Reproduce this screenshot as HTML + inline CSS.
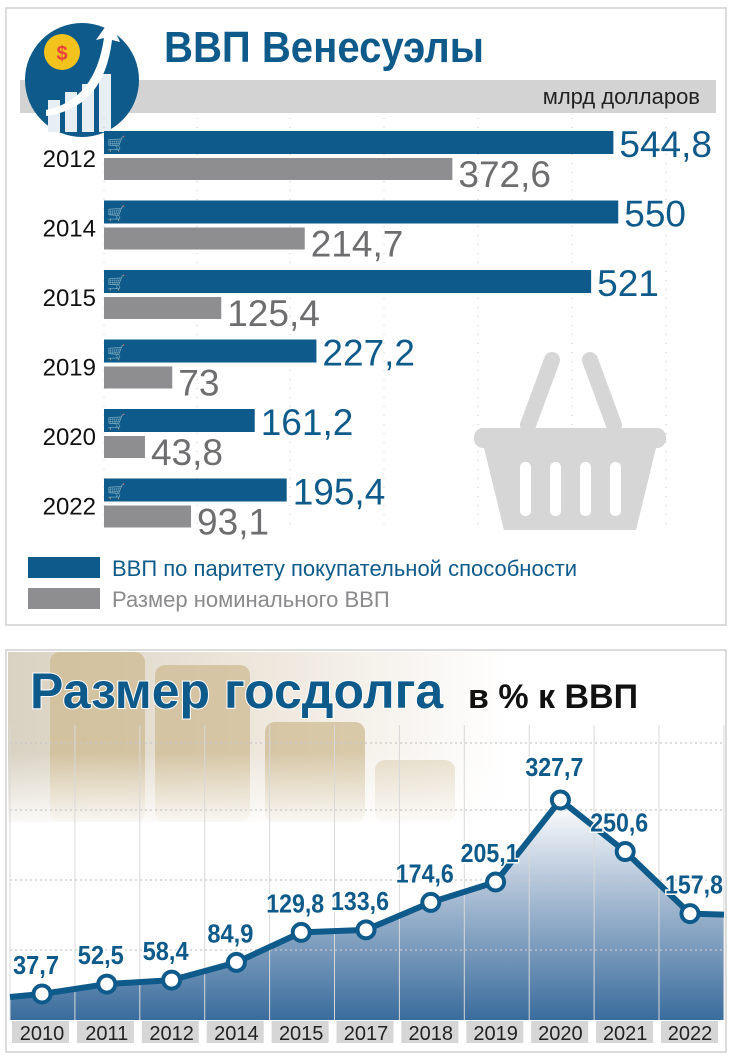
<!DOCTYPE html>
<html><head><meta charset="utf-8"><style>
body{margin:0;background:#fff;width:735px;height:1058px;overflow:hidden;font-family:"Liberation Sans",sans-serif}
svg{display:block}
</style></head><body>
<svg width="735" height="1058" viewBox="0 0 735 1058" font-family="Liberation Sans, sans-serif">
<defs>
<linearGradient id="area" x1="0" y1="0" x2="0" y2="1"><stop offset="0" stop-color="#ffffff"/><stop offset="0.35" stop-color="#b9c9dc"/><stop offset="1" stop-color="#3a6c9c"/></linearGradient>
<linearGradient id="bg" x1="0" y1="0" x2="1" y2="0"><stop offset="0" stop-color="#d9d2c2"/><stop offset="0.55" stop-color="#efe9df"/><stop offset="1" stop-color="#ffffff"/></linearGradient>
<linearGradient id="fade" x1="0" y1="0" x2="0" y2="1"><stop offset="0" stop-color="#fff" stop-opacity="0"/><stop offset="1" stop-color="#fff" stop-opacity="1"/></linearGradient>
</defs>
<rect x="6" y="8" width="720" height="617" fill="#fff" stroke="#d0d0d0" stroke-width="1.5"/>
<rect x="20" y="80" width="696" height="33" fill="#d3d3d3"/>
<text x="700" y="104" text-anchor="end" font-size="22" fill="#222">млрд долларов</text>
<g>
<circle cx="82" cy="80" r="57" fill="#0e5a8a"/>
<rect x="48" y="100" width="12" height="32" fill="#e7eef4"/><rect x="65" y="92" width="12" height="40" fill="#e7eef4"/><rect x="82" y="84" width="12" height="48" fill="#e7eef4"/><rect x="99" y="74" width="12" height="58" fill="#e7eef4"/>
<path d="M46 110 Q95 100 104 38 L96 40 L110 20 L120 42 L112 40 Q104 108 46 116 Z" fill="#fff"/>
<circle cx="62" cy="52" r="18" fill="#f4c21c"/><text x="62" y="60" text-anchor="middle" font-size="20" font-weight="bold" fill="#e8443a">$</text>
</g>
<text x="164" y="62" font-size="44" font-weight="bold" fill="#0e5a8a" textLength="320" lengthAdjust="spacingAndGlyphs">ВВП Венесуэлы</text>
<g id="gridTop"></g>
<g fill="#d6d6d6">
<line x1="552" y1="360" x2="528" y2="425" stroke="#d6d6d6" stroke-width="16" stroke-linecap="round"/>
<line x1="590" y1="360" x2="614" y2="425" stroke="#d6d6d6" stroke-width="16" stroke-linecap="round"/>
<rect x="474" y="428" width="192" height="20" rx="9"/>
<path d="M484 448 L656 448 L636 530 L504 530 Z"/>
<g fill="#fff"><rect x="520" y="462" width="11" height="54" rx="5"/><rect x="550" y="462" width="11" height="54" rx="5"/><rect x="580" y="462" width="11" height="54" rx="5"/><rect x="610" y="462" width="11" height="54" rx="5"/></g>
</g>
<g id="bars"></g>
<g>
<rect x="28" y="557" width="72" height="21" fill="#0e5a8a"/>
<text x="112" y="576" font-size="22" fill="#0e5a8a">ВВП по паритету покупательной способности</text>
<rect x="28" y="588" width="72" height="21" fill="#8e8e90"/>
<text x="112" y="607" font-size="22" fill="#8a8a8c">Размер номинального ВВП</text>
</g>
<rect x="6" y="650" width="720" height="402" fill="#fff" stroke="#d0d0d0" stroke-width="1.5"/>
<rect x="8" y="652" width="500" height="170" fill="url(#bg)"/>
<g fill="#cdb98f" opacity="0.7">
<rect x="50" y="652" width="95" height="170" rx="10"/><rect x="155" y="665" width="95" height="157" rx="10"/><rect x="265" y="722" width="100" height="100" rx="10"/><rect x="375" y="760" width="80" height="62" rx="10" opacity="0.6"/>
</g>
<rect x="8" y="752" width="716" height="80" fill="url(#fade)"/>
<text x="30" y="708" font-size="50" font-weight="bold" fill="#0e5a8a" stroke="#fff" stroke-width="2" paint-order="stroke">Размер госдолга</text>
<text x="468" y="708" font-size="34" font-weight="bold" fill="#111">в % к ВВП</text>
<g id="debt"></g>
</svg>
<script>
const years = ['2012','2014','2015','2019','2020','2022'];
const ppp = [544.8, 550, 521, 227.2, 161.2, 195.4];
const nominal = [372.6, 214.7, 125.4, 73, 43.8, 93.1];
const pppLabels = ['544,8','550','521','227,2','161,2','195,4'];
const nomLabels = ['372,6','214,7','125,4','73','43,8','93,1'];

const debtYears = ['2010','2011','2012','2014','2015','2017','2018','2019','2020','2021','2022'];
const debtValues = [37.7, 52.5, 58.4, 84.9, 129.8, 133.6, 174.6, 205.1, 327.7, 250.6, 157.8];
const debtLabels = ['37,7','52,5','58,4','84,9','129,8','133,6','174,6','205,1','327,7','250,6','157,8'];

const NS = 'http://www.w3.org/2000/svg';
function mk(tag, attrs, parent){const e=document.createElementNS(NS,tag);for(const k in attrs)e.setAttribute(k,attrs[k]);parent.appendChild(e);return e;}

const x0 = 104, xs = v => v * 0.935;
const rowY = i => 131 + i * 69.5;
const gt = document.getElementById('gridTop');
[104,197,290,384,478,572,666].forEach(x=>{
  const l = mk('line',{x1:x,y1:118,x2:x,y2:530,stroke:'#c8c8c8','stroke-width':1,'stroke-dasharray':'1 8'},gt);
  
  
});
const bars = document.getElementById('bars');
years.forEach((y,i)=>{
  const top = rowY(i);
  const t = mk('text',{x:96,y:top+36,'text-anchor':'end','font-size':24,fill:'#111'},bars);
  t.textContent = y;
  
  
  const b1 = mk('rect',{x:x0,y:top,width:xs(ppp[i]),height:23,fill:'#0e5a8a'},bars);
  
  
  const i1 = mk('text',{x:x0+3,y:top+18,'font-size':15,fill:'#fff'},bars); i1.textContent='🛒';
  
  
  const b2 = mk('rect',{x:x0,y:top+27,width:xs(nominal[i]),height:22,fill:'#8e8e90'},bars);
  
  
  const l1 = mk('text',{x:x0+xs(ppp[i])+6,y:top+26,'font-size':37,fill:'#0e5a8a'},bars);
  l1.textContent = pppLabels[i];
  
  
  const l2 = mk('text',{x:x0+xs(nominal[i])+6,y:top+56,'font-size':37,fill:'#6e6e70'},bars);
  l2.textContent = nomLabels[i];
  
  
});

const g = document.getElementById('debt');
const X = i => 42 + i * 64.8;
const Y = v => 1019.2 - 0.669 * v;
const n = debtValues.length;
let pts = debtValues.map((v,i)=>[X(i),Y(v)]);
const leftY = Y(debtValues[0]) + 3, rightY = Y(debtValues[n-1]) + 1;
let d = 'M10 '+leftY+' ' + pts.map(p=>'L'+p[0]+' '+p[1]).join(' ') + ' L724 '+rightY;
const area = mk('path',{d:d+' L724 1020 L10 1020 Z',fill:'url(#area)'},g);


[743,810,880,950].forEach(y=>{
  const l = mk('line',{x1:10,y1:y,x2:724,y2:y,stroke:'#c8c8c8','stroke-width':1.2,'stroke-dasharray':'2 3'},g);
  
  
});
for(let i=0;i<=n;i++){
  const x = 10 + i*64.9;
  const l = mk('line',{x1:x,y1:725,x2:x,y2:1020,stroke:'#d8d8d8','stroke-width':1},g);
  
  
}
const line = mk('path',{d:d,fill:'none',stroke:'#0e5a8a','stroke-width':6,'stroke-linejoin':'round'},g);


debtValues.forEach((v,i)=>{
  const c = mk('circle',{cx:X(i),cy:Y(v),r:8.5,fill:'#fff',stroke:'#0e5a8a','stroke-width':4},g);
  
  
  const lx = i===n-1 ? X(i)+4 : X(i)-6;
  const tl = debtLabels[i].length>4 ? 58 : 46;
  const t = mk('text',{x:lx,y:Y(v)-(i===8?24:20),'text-anchor':'middle','font-size':26,'font-weight':'bold',fill:'#0e5a8a',stroke:'#fff','stroke-width':3,'paint-order':'stroke',textLength:tl,lengthAdjust:'spacingAndGlyphs'},g);
  t.textContent = debtLabels[i];
  
  
  const r = mk('rect',{x:12+i*64.9,y:1021,width:57,height:22,fill:'#d6d6d6'},g);
  
  
  const xt = mk('text',{x:X(i),y:1040,'text-anchor':'middle','font-size':20,fill:'#222'},g);
  xt.textContent = debtYears[i];
  
  
});
</script>
</body></html>
